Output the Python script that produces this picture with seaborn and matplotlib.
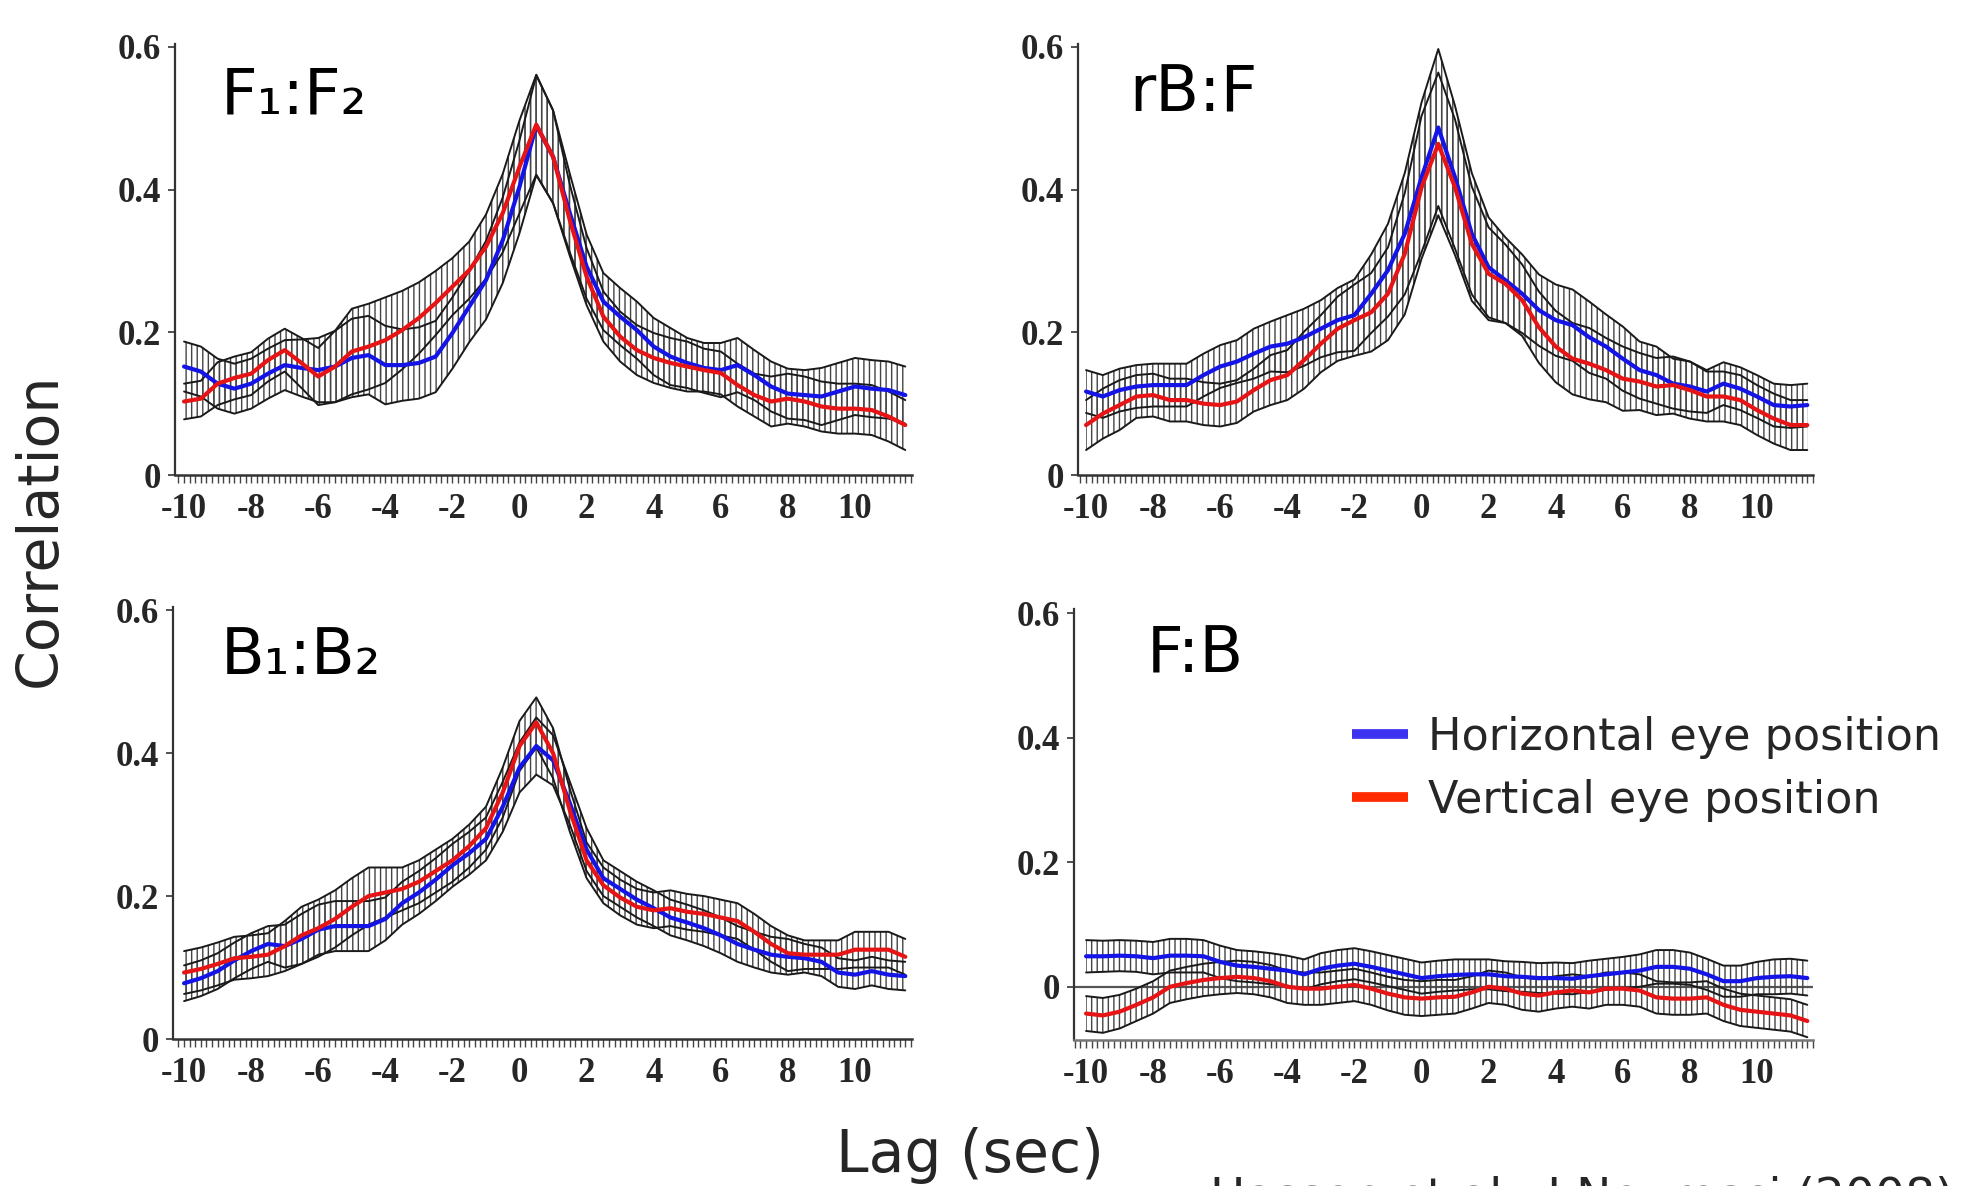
import numpy as np
import pandas as pd
import matplotlib
matplotlib.use("Agg")
import matplotlib.pyplot as plt
import seaborn as sns
from matplotlib.ticker import MultipleLocator
from matplotlib.lines import Line2D

# ---------------- data ----------------
lag = [-10, -9.5, -9, -8.5, -8, -7.5, -7, -6.5, -6, -5.5,
       -5, -4.5, -4, -3.5, -3, -2.5, -2, -1.5, -1, -0.5,
       0, 0.5, 1, 1.5, 2, 2.5, 3, 3.5, 4, 4.5,
       5, 5.5, 6, 6.5, 7, 7.5, 8, 8.5, 9, 9.5,
       10, 10.5, 11, 11.5]

f1f2_h = [0.152, 0.145, 0.128, 0.121, 0.128, 0.142, 0.154, 0.150, 0.147, 0.152,
          0.164, 0.168, 0.154, 0.154, 0.157, 0.166, 0.199, 0.236, 0.273, 0.329,
          0.404, 0.490, 0.446, 0.367, 0.292, 0.243, 0.222, 0.203, 0.180, 0.166,
          0.157, 0.150, 0.147, 0.154, 0.140, 0.124, 0.114, 0.112, 0.110, 0.117,
          0.124, 0.121, 0.119, 0.112]
f1f2_v = [0.103, 0.107, 0.128, 0.136, 0.142, 0.161, 0.175, 0.157, 0.138, 0.152,
          0.173, 0.180, 0.189, 0.203, 0.220, 0.241, 0.264, 0.287, 0.320, 0.367,
          0.432, 0.491, 0.446, 0.357, 0.278, 0.222, 0.194, 0.175, 0.164, 0.157,
          0.152, 0.147, 0.143, 0.126, 0.112, 0.103, 0.107, 0.103, 0.096, 0.093,
          0.093, 0.091, 0.082, 0.070]
f1f2_h_err = [0.035, 0.035, 0.035, 0.035, 0.035, 0.035, 0.035, 0.040, 0.045, 0.050,
              0.055, 0.055, 0.055, 0.050, 0.050, 0.050, 0.050, 0.050, 0.055, 0.060,
              0.065, 0.070, 0.065, 0.055, 0.045, 0.040, 0.040, 0.040, 0.040, 0.040,
              0.035, 0.035, 0.038, 0.038, 0.035, 0.035, 0.035, 0.035, 0.040, 0.040,
              0.040, 0.040, 0.040, 0.040]
f1f2_v_err = [0.025, 0.025, 0.030, 0.030, 0.030, 0.030, 0.030, 0.035, 0.040, 0.050,
              0.060, 0.060, 0.060, 0.055, 0.050, 0.045, 0.040, 0.040, 0.045, 0.055,
              0.065, 0.070, 0.065, 0.050, 0.040, 0.035, 0.035, 0.035, 0.035, 0.035,
              0.035, 0.030, 0.030, 0.030, 0.030, 0.035, 0.035, 0.035, 0.035, 0.035,
              0.035, 0.035, 0.035, 0.035]

rbf_h = [0.117, 0.110, 0.119, 0.124, 0.126, 0.126, 0.126, 0.140, 0.152, 0.159,
         0.170, 0.180, 0.184, 0.193, 0.205, 0.217, 0.224, 0.254, 0.287, 0.338,
         0.417, 0.487, 0.417, 0.338, 0.291, 0.273, 0.254, 0.231, 0.217, 0.210,
         0.193, 0.180, 0.163, 0.147, 0.140, 0.128, 0.124, 0.117, 0.128, 0.121,
         0.110, 0.098, 0.096, 0.098]
rbf_v = [0.070, 0.086, 0.098, 0.110, 0.112, 0.105, 0.105, 0.100, 0.098, 0.103,
         0.119, 0.133, 0.140, 0.161, 0.184, 0.205, 0.217, 0.228, 0.254, 0.310,
         0.403, 0.464, 0.403, 0.324, 0.282, 0.268, 0.245, 0.207, 0.180, 0.163,
         0.156, 0.147, 0.135, 0.131, 0.124, 0.126, 0.119, 0.110, 0.110, 0.105,
         0.091, 0.079, 0.070, 0.070]
rbf_h_err = [0.030, 0.030, 0.030, 0.030, 0.030, 0.030, 0.030, 0.030, 0.030, 0.030,
             0.035, 0.035, 0.040, 0.040, 0.040, 0.045, 0.050, 0.055, 0.065, 0.085,
             0.105, 0.110, 0.100, 0.085, 0.070, 0.060, 0.055, 0.050, 0.050, 0.050,
             0.050, 0.045, 0.045, 0.040, 0.040, 0.035, 0.035, 0.030, 0.030, 0.030,
             0.030, 0.030, 0.030, 0.030]
rbf_v_err = [0.035, 0.035, 0.035, 0.030, 0.030, 0.030, 0.030, 0.030, 0.030, 0.030,
             0.030, 0.035, 0.035, 0.040, 0.040, 0.045, 0.050, 0.055, 0.065, 0.085,
             0.100, 0.100, 0.095, 0.080, 0.065, 0.055, 0.050, 0.050, 0.050, 0.050,
             0.050, 0.045, 0.045, 0.040, 0.040, 0.040, 0.040, 0.035, 0.035, 0.035,
             0.035, 0.035, 0.035, 0.035]

b1b2_h = [0.078, 0.085, 0.095, 0.110, 0.123, 0.133, 0.130, 0.140, 0.153, 0.158,
          0.158, 0.158, 0.168, 0.190, 0.205, 0.223, 0.243, 0.260, 0.280, 0.325,
          0.380, 0.410, 0.390, 0.330, 0.265, 0.225, 0.210, 0.195, 0.183, 0.170,
          0.163, 0.155, 0.145, 0.133, 0.125, 0.118, 0.115, 0.113, 0.108, 0.093,
          0.090, 0.095, 0.090, 0.088]
b1b2_v = [0.093, 0.098, 0.105, 0.113, 0.115, 0.118, 0.130, 0.145, 0.155, 0.168,
          0.185, 0.200, 0.205, 0.210, 0.220, 0.235, 0.250, 0.270, 0.295, 0.345,
          0.410, 0.443, 0.400, 0.320, 0.250, 0.215, 0.198, 0.185, 0.180, 0.183,
          0.178, 0.175, 0.170, 0.165, 0.150, 0.133, 0.120, 0.118, 0.118, 0.118,
          0.125, 0.125, 0.125, 0.115]
b1b2_h_err = [0.025, 0.025, 0.025, 0.025, 0.025, 0.025, 0.030, 0.035, 0.035, 0.035,
              0.035, 0.035, 0.030, 0.030, 0.030, 0.030, 0.030, 0.030, 0.030, 0.035,
              0.035, 0.040, 0.035, 0.030, 0.030, 0.025, 0.025, 0.025, 0.025, 0.025,
              0.025, 0.025, 0.025, 0.025, 0.025, 0.025, 0.025, 0.020, 0.020, 0.020,
              0.020, 0.020, 0.020, 0.020]
b1b2_v_err = [0.030, 0.030, 0.030, 0.030, 0.030, 0.030, 0.035, 0.040, 0.040, 0.040,
              0.040, 0.040, 0.035, 0.030, 0.030, 0.030, 0.030, 0.030, 0.030, 0.035,
              0.035, 0.035, 0.035, 0.030, 0.025, 0.025, 0.025, 0.025, 0.025, 0.025,
              0.025, 0.025, 0.025, 0.025, 0.025, 0.025, 0.025, 0.020, 0.020, 0.020,
              0.025, 0.025, 0.025, 0.025]

fb_h = [0.049, 0.049, 0.050, 0.049, 0.046, 0.050, 0.050, 0.049, 0.040, 0.034,
        0.032, 0.029, 0.026, 0.020, 0.029, 0.034, 0.037, 0.032, 0.026, 0.020,
        0.014, 0.017, 0.019, 0.020, 0.020, 0.017, 0.016, 0.014, 0.014, 0.013,
        0.017, 0.020, 0.023, 0.026, 0.032, 0.032, 0.029, 0.020, 0.009, 0.009,
        0.014, 0.016, 0.017, 0.014]
fb_v = [-0.043, -0.046, -0.040, -0.029, -0.017, 0.000, 0.006, 0.011, 0.014, 0.016,
        0.014, 0.009, 0.000, -0.003, -0.003, 0.000, 0.003, -0.003, -0.011, -0.017,
        -0.019, -0.017, -0.016, -0.009, 0.000, -0.003, -0.011, -0.014, -0.009, -0.006,
        -0.009, -0.003, -0.003, -0.006, -0.017, -0.019, -0.019, -0.017, -0.029, -0.037,
        -0.040, -0.043, -0.046, -0.055]
fb_h_err = [0.026, 0.025, 0.025, 0.025, 0.026, 0.027, 0.027, 0.026, 0.026, 0.025,
            0.025, 0.025, 0.024, 0.024, 0.025, 0.025, 0.025, 0.025, 0.025, 0.025,
            0.025, 0.025, 0.025, 0.024, 0.024, 0.024, 0.024, 0.024, 0.025, 0.025,
            0.025, 0.025, 0.025, 0.026, 0.027, 0.027, 0.026, 0.025, 0.025, 0.025,
            0.026, 0.028, 0.028, 0.028]
fb_v_err = [0.028, 0.028, 0.027, 0.026, 0.026, 0.026, 0.026, 0.026, 0.026, 0.026,
            0.026, 0.026, 0.026, 0.026, 0.026, 0.026, 0.026, 0.026, 0.027, 0.028,
            0.028, 0.028, 0.027, 0.026, 0.026, 0.026, 0.026, 0.026, 0.026, 0.026,
            0.026, 0.026, 0.026, 0.026, 0.026, 0.026, 0.026, 0.026, 0.026, 0.026,
            0.026, 0.026, 0.026, 0.026]

titles = ["F\u2081:F\u2082", "rB:F", "B\u2081:B\u2082", "F:B"]
legend_labels = ["Horizontal eye position", "Vertical eye position"]
ytick_vals = [0, 0.2, 0.4, 0.6]
ytick_text = ["0", "0.2", "0.4", "0.6"]
xtick_vals = [-10, -8, -6, -4, -2, 0, 2, 4, 6, 8, 10]

# ---------------- style ----------------
sns.set_style("white")
plt.rcParams["font.family"] = ["DejaVu Sans"]
plt.rcParams["axes.unicode_minus"] = False
plt.rcParams["hatch.linewidth"] = 1.0
plt.rcParams["hatch.color"] = "#444444"

W, H = 1961, 1186
fig = plt.figure(figsize=(W / 100, H / 100), dpi=100)
fig.patch.set_facecolor("white")

BLUE = "#1414e6"
RED = "#e61414"

def px_rect(left, right, top, bottom):
    return [left / W, 1 - bottom / H, (right - left) / W, (bottom - top) / H]

panels = [
    dict(h=f1f2_h, v=f1f2_v, he=f1f2_h_err, ve=f1f2_v_err, title=titles[0],
         rect=px_rect(175, 912, 44, 475), xlim=(-10.27, 11.70), ylim=(0, 0.604),
         tpos=(221, 114), zero=False),
    dict(h=rbf_h, v=rbf_v, he=rbf_h_err, ve=rbf_v_err, title=titles[1],
         rect=px_rect(1078, 1813, 44, 475), xlim=(-10.24, 11.67), ylim=(0, 0.604),
         tpos=(1129, 112), zero=False),
    dict(h=b1b2_h, v=b1b2_v, he=b1b2_h_err, ve=b1b2_v_err, title=titles[2],
         rect=px_rect(173, 912, 607, 1039), xlim=(-10.33, 11.70), ylim=(0, 0.6045),
         tpos=(221, 674), zero=False),
    dict(h=fb_h, v=fb_v, he=fb_h_err, ve=fb_v_err, title=titles[3],
         rect=px_rect(1074, 1813, 609, 1040), xlim=(-10.36, 11.67), ylim=(-0.0855, 0.607),
         tpos=(1147, 672), zero=True),
]

for i, p in enumerate(panels):
    ax = fig.add_axes(p["rect"])
    ax.set_facecolor("white")
    n = len(lag)
    df = pd.DataFrame({
        "lag": lag + lag,
        "corr": p["h"] + p["v"],
        "eye": ["Horizontal"] * n + ["Vertical"] * n,
    })
    if p["zero"]:
        ax.axhline(0, color="#555555", lw=1.6, zorder=1)
    for vals, errs in ((p["h"], p["he"]), (p["v"], p["ve"])):
        vals_a = np.asarray(vals)
        errs_a = np.asarray(errs)
        lo = vals_a - errs_a
        hi = vals_a + errs_a
        ax.fill_between(lag, lo, hi, facecolor="none", edgecolor="#444444",
                        hatch="|||", linewidth=0, zorder=1.5)
        ax.plot(lag, hi, color="#1a1a1a", lw=1.4, zorder=2)
        ax.plot(lag, lo, color="#1a1a1a", lw=1.4, zorder=2)
    sns.lineplot(data=df, x="lag", y="corr", hue="eye",
                 palette={"Horizontal": BLUE, "Vertical": RED},
                 linewidth=3, legend=False, errorbar=None, ax=ax, zorder=3)
    ax.set_xlim(*p["xlim"])
    ax.set_ylim(*p["ylim"])
    ax.set_xlabel("")
    ax.set_ylabel("")
    for s in ("top", "right"):
        ax.spines[s].set_visible(False)
    ax.spines["left"].set_color("#333333")
    ax.spines["left"].set_linewidth(1.6)
    ax.spines["bottom"].set_color("#777777" if p["zero"] else "#333333")
    ax.spines["bottom"].set_linewidth(1.8)
    ax.set_yticks(ytick_vals)
    ax.set_yticklabels(ytick_text)
    ax.set_xticks(xtick_vals)
    ax.set_xticklabels([str(v) for v in xtick_vals])
    ax.xaxis.set_minor_locator(MultipleLocator(1 / 6))
    ax.tick_params(axis="x", which="both", bottom=True, direction="out",
                   length=6, width=1.0, color="#444444", pad=7)
    ax.tick_params(axis="y", which="major", left=True, direction="out",
                   length=5, width=1.2, color="#333333", pad=5)
    for lbl in ax.get_xticklabels() + ax.get_yticklabels():
        lbl.set_fontfamily("Liberation Serif")
        lbl.set_fontweight("bold")
        lbl.set_fontsize(25)
    fig.text(p["tpos"][0] / W, 1 - p["tpos"][1] / H, p["title"],
             fontsize=46, va="baseline", ha="left", color="black")

handles = [Line2D([], [], color="#3c32f0", lw=7, solid_capstyle="butt"),
           Line2D([], [], color="#ff2a00", lw=7, solid_capstyle="butt")]
fig.legend(handles=handles, labels=legend_labels, loc="upper left",
           bbox_to_anchor=(1352 / W, 1 - 716 / H), frameon=False, fontsize=32,
           handlelength=1.25, handletextpad=0.45, labelspacing=0.45,
           borderpad=0, borderaxespad=0)

fig.text(40 / W, 1 - 530 / H, "Correlation", rotation=90, fontsize=41,
         ha="center", va="center")
fig.text(970 / W, 1 - 1172 / H, "Lag (sec)", fontsize=42, ha="center", va="baseline")
fig.text(1210 / W, 1 - 1176 / H, "Hasson et al., J Neurosci (2008)", fontsize=34,
         ha="left", va="top")

fig.savefig("out.png", dpi=100)
